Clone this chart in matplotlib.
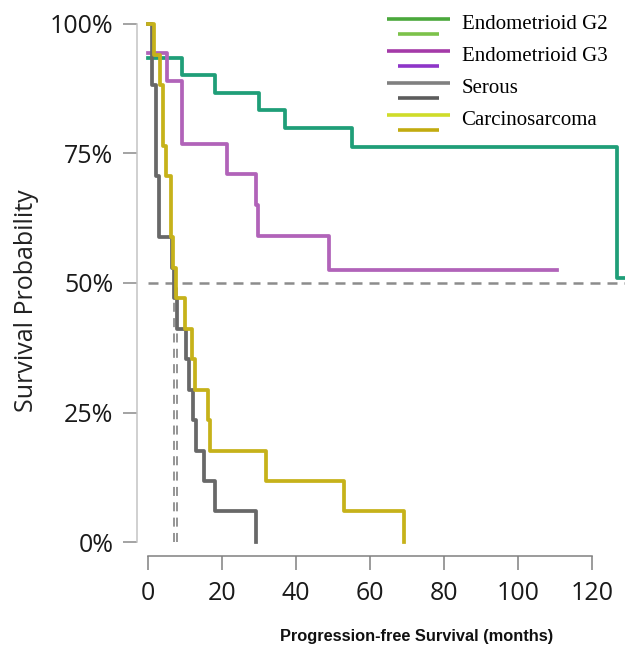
import matplotlib
matplotlib.use('Agg')
import matplotlib.pyplot as plt
from matplotlib import font_manager
from matplotlib.legend_handler import HandlerBase
from matplotlib.lines import Line2D

# Kaplan-Meier steps: (time in months, survival after that time)
g2_t = [0, 9.1, 18.1, 30.1, 37.0, 55.1, 126.8, 129.0]
g2_s = [0.935, 0.902, 0.867, 0.834, 0.800, 0.763, 0.509, 0.509]

g3_t = [0, 5.1, 9.1, 21.3, 29.2, 29.8, 49.0, 110.5]
g3_s = [0.944, 0.889, 0.768, 0.710, 0.651, 0.591, 0.526, 0.526]

serous_t = [0, 1.1, 2.2, 3.1, 6.4, 7.1, 7.8, 10.2, 11.1, 12.2, 13.1, 15.0, 18.0, 29.2]
serous_s = [1.0, 0.882, 0.706, 0.588, 0.529, 0.471, 0.412, 0.353, 0.294, 0.235, 0.176, 0.118, 0.059, 0.0]

carc_t = [0, 1.6, 3.2, 4.1, 5.0, 6.1, 6.8, 7.6, 9.9, 12.0, 12.8, 16.2, 16.8, 32.0, 53.0, 69.2]
carc_s = [1.0, 0.941, 0.882, 0.765, 0.706, 0.588, 0.529, 0.471, 0.412, 0.353, 0.294, 0.235, 0.176, 0.118, 0.059, 0.0]

medians = [7.0, 7.9]

labels = ['Endometrioid G2', 'Endometrioid G3', 'Serous', 'Carcinosarcoma']
curve_cols = ['#1f9e78', '#b163b9', '#686868', '#c6b21a']
legend_cols = [('#4aa83c', '#7cc24a'), ('#a43aa8', '#8e35c8'),
               ('#808080', '#5c5c5c'), ('#cfdc2a', '#c2ab10')]

x_ticks = [0, 20, 40, 60, 80, 100, 120]
y_ticks = [0, 0.25, 0.5, 0.75, 1.0]
y_ticklabels = ['0%', '25%', '50%', '75%', '100%']


class TwinLine(HandlerBase):
    # legend key: long line on top, shorter darker line below
    def create_artists(self, legend, orig_handle, xdescent, ydescent,
                       width, height, fontsize, trans):
        c1, c2 = orig_handle
        yc = height / 2 - ydescent
        x0 = -xdescent
        inset = width * 0.17
        l1 = Line2D([x0, x0 + width], [yc + 2, yc + 2], color=c1, lw=2.6,
                    solid_capstyle='butt', transform=trans)
        l2 = Line2D([x0 + inset, x0 + width - inset], [yc - 9, yc - 9], color=c2,
                    lw=2.6, solid_capstyle='butt', transform=trans)
        return [l1, l2]


# condensed bold face for the x title if available
try:
    font_manager.findfont(font_manager.FontProperties(family='Liberation Sans Narrow'),
                          fallback_to_default=False)
    xlab_font, xlab_size = 'Liberation Sans Narrow', 13
except ValueError:
    xlab_font, xlab_size = 'Liberation Sans', 11.8

fig = plt.figure(figsize=(6.25, 6.48), dpi=100)
ax = fig.add_axes([137 / 625, 92 / 648, 488 / 625, 556 / 648])

xmax = 128.9
ax.set_xlim(-2.97, xmax)
ax.set_ylim(-0.027, 1.0463)

ax.hlines(0.5, 0, xmax, colors='#8c8c8c', lw=1.8, linestyles=(0, (4, 2.8)), zorder=1)
ax.vlines(medians, 0, 0.5, colors='#8c8c8c', lw=1.3, linestyles=(0, (5, 3.5)), zorder=1)

for t, s, c in zip([g2_t, g3_t, serous_t, carc_t], [g2_s, g3_s, serous_s, carc_s], curve_cols):
    ax.step(t, s, where='post', color=c, lw=2.7, zorder=3)

for side in ['top', 'right']:
    ax.spines[side].set_visible(False)
ax.spines['left'].set_bounds(0, 1)
ax.spines['left'].set_color('#c4c4c4')
ax.spines['left'].set_linewidth(1.1)
ax.spines['bottom'].set_bounds(0, 120)
ax.spines['bottom'].set_color('#808080')
ax.spines['bottom'].set_linewidth(1.1)

ax.set_xticks(x_ticks)
ax.set_yticks(y_ticks)
ax.set_yticklabels(y_ticklabels)
ax.tick_params(axis='y', length=10, width=1.1, color='#8a8a8a', pad=7,
               labelsize=18, labelcolor='#1a1a1a')
ax.tick_params(axis='x', length=10, width=1.1, color='#808080', pad=8,
               labelsize=18, labelcolor='#1a1a1a')
for lab in ax.get_xticklabels() + ax.get_yticklabels():
    lab.set_family('Open Sans')

ax.set_ylabel('Survival Probability', family='Open Sans', fontsize=18, color='#222222')
ax.yaxis.set_label_coords(-0.2, 0.46)

fig.text(417 / 625, 1 - 637 / 648, 'Progression-free Survival (months)',
         family=[xlab_font, 'DejaVu Sans'], weight='bold',
         fontsize=xlab_size, ha='center', va='center', color='#111111')

ax.legend(handles=legend_cols, labels=labels, handler_map={tuple: TwinLine()},
          loc='upper left', bbox_to_anchor=(387 / 625, 1 - 14 / 648),
          bbox_transform=fig.transFigure, frameon=False, borderpad=0,
          borderaxespad=0, handlelength=3.0, handletextpad=0.58,
          labelspacing=0.6, prop={'family': 'Liberation Serif', 'size': 15})

fig.savefig('out.png', dpi=100)
